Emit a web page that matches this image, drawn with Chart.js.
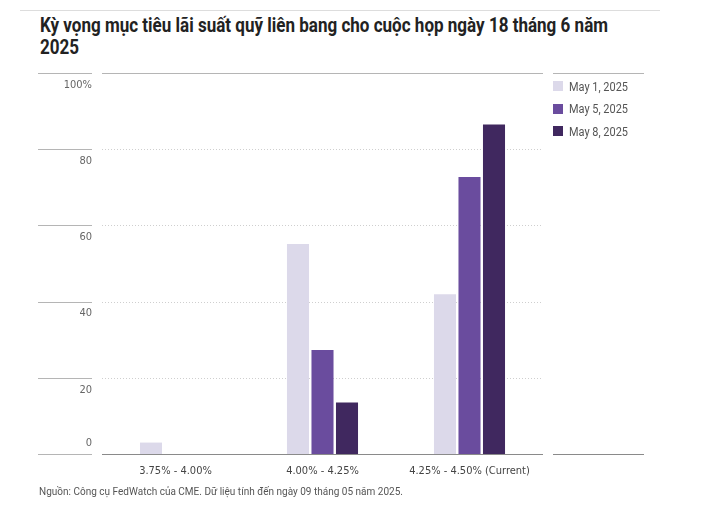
<!DOCTYPE html>
<html>
<head>
<meta charset="utf-8">
<script src="https://cdn.jsdelivr.net/npm/chart.js@4"></script>
<style>
  body { margin: 0; width: 705px; height: 521px; background: #fff; position: relative; overflow: hidden;
         font-family: Roboto, "DejaVu Sans Condensed", sans-serif; }
  #topline { position: absolute; left: 20px; top: 10px; width: 640px; height: 1px; background: #ddd; }
  #title { position: absolute; left: 40px; top: 15px; font-size: 20px; font-weight: bold; line-height: 21.5px;
           color: #222; white-space: nowrap; transform-origin: 0 0; }
  #note { position: absolute; left: 39px; top: 485px; font-size: 11.5px; line-height: 12px; color: #555;
          white-space: nowrap; transform-origin: 0 0; }
  #legend { position: absolute; left: 553px; top: 75px; font-size: 12.5px; color: #555; }
  #legend div { height: 22.5px; display: flex; align-items: center; white-space: nowrap; }
  #legend span.sw { display: inline-block; width: 10px; height: 10px; margin-right: 6px; }
  #legend span.tx { display: inline-block; transform-origin: 0 50%; }
  canvas { position: absolute; left: 0; top: 0; }
</style>
</head>
<body>
<div id="topline"></div>
<div id="title">Kỳ vọng mục tiêu lãi suất quỹ liên bang cho cuộc họp ngày 18 tháng 6 năm<br>2025</div>
<canvas id="chart" width="705" height="521"></canvas>
<div id="legend"></div>
<div id="note">Nguồn: Công cụ FedWatch của CME. Dữ liệu tính đến ngày 09 tháng 05 năm 2025.</div>
<script>
const categories = ["3.75% - 4.00%", "4.00% - 4.25%", "4.25% - 4.50% (Current)"];
const seriesNames = ["May 1, 2025", "May 5, 2025", "May 8, 2025"];
const may1 = [3.0, 55.1, 41.9];
const may5 = [0, 27.3, 72.7];
const may8 = [0, 13.5, 86.5];
const colors = ["#dcd9ea", "#6a4c9e", "#40285f"];
const yTicks = [0, 20, 40, 60, 80, 100];

const font = "'DejaVu Sans Condensed', Roboto, sans-serif";

// squeeze html text to the narrow widths of the original
function squeeze(el, target) {
  const w = el.getBoundingClientRect().width;
  el.style.transform = "scaleX(" + (target / w) + ")";
}

// legend
const legend = document.getElementById("legend");
seriesNames.forEach((n, i) => {
  const row = document.createElement("div");
  row.innerHTML = `<span class="sw" style="background:${colors[i]}"></span><span class="tx">${n}</span>`;
  legend.appendChild(row);
});
legend.querySelectorAll(".tx").forEach(t => squeeze(t, 59));

// title first line is 568px wide in the original
const title = document.getElementById("title");
const probe = document.createElement("span");
probe.textContent = title.firstChild.textContent;
title.insertBefore(probe, title.firstChild);
title.removeChild(probe.nextSibling);
const tw = probe.getBoundingClientRect().width;
title.style.transform = "scaleX(" + (568 / tw) + ")";

squeeze(document.getElementById("note"), 364);

// grid lines, side rules and y labels
const decor = {
  id: "decor",
  beforeDatasetsDraw(chart) {
    const ctx = chart.ctx;
    const y = chart.scales.y;
    const a = chart.chartArea;
    ctx.save();
    yTicks.forEach(v => {
      const py = Math.round(y.getPixelForValue(v)) + 0.5;
      ctx.setLineDash([]);
      ctx.strokeStyle = "#b5b5b5";
      ctx.lineWidth = 1;
      ctx.beginPath();
      ctx.moveTo(38, py); ctx.lineTo(92, py);
      ctx.stroke();
      if (v === 0 || v === 100) {
        ctx.strokeStyle = v === 0 ? "#8a8a8a" : "#b5b5b5";
        ctx.beginPath();
        ctx.moveTo(a.left, py); ctx.lineTo(a.right, py);
        ctx.moveTo(553, py); ctx.lineTo(644, py);
        ctx.stroke();
      } else {
        ctx.strokeStyle = "#cfcfcf";
        ctx.setLineDash([1, 2]);
        ctx.beginPath();
        ctx.moveTo(a.left, py); ctx.lineTo(a.right, py);
        ctx.stroke();
      }
    });
    ctx.setLineDash([]);
    ctx.fillStyle = "#666";
    ctx.font = "11px " + font;
    ctx.textAlign = "right";
    ctx.textBaseline = "middle";
    yTicks.forEach(v => {
      const py = y.getPixelForValue(v);
      const txt = v === 100 ? "100%" : String(v);
      ctx.fillText(txt, 92, v === 0 ? py - 11 : py + 12);
    });
    ctx.restore();
  }
};

new Chart(document.getElementById("chart"), {
  type: "bar",
  data: {
    labels: categories,
    datasets: [
      { label: seriesNames[0], data: may1, backgroundColor: colors[0] },
      { label: seriesNames[1], data: may5, backgroundColor: colors[1] },
      { label: seriesNames[2], data: may8, backgroundColor: colors[2] }
    ]
  },
  options: {
    responsive: false,
    animation: false,
    layout: { padding: { left: 102, right: 162, top: 73, bottom: 43 } },
    categoryPercentage: 0.5,
    barPercentage: 0.9,
    plugins: { legend: { display: false }, tooltip: { enabled: false } },
    scales: {
      x: {
        grid: { display: false },
        border: { display: false },
        ticks: { color: "#444", font: { size: 11, family: font }, padding: 3, maxRotation: 0 },
        afterFit(s) { s.height = 24; }
      },
      y: {
        display: false,
        min: 0,
        max: 100,
        ticks: { stepSize: 20 }
      }
    }
  },
  plugins: [decor]
});
</script>
</body>
</html>
